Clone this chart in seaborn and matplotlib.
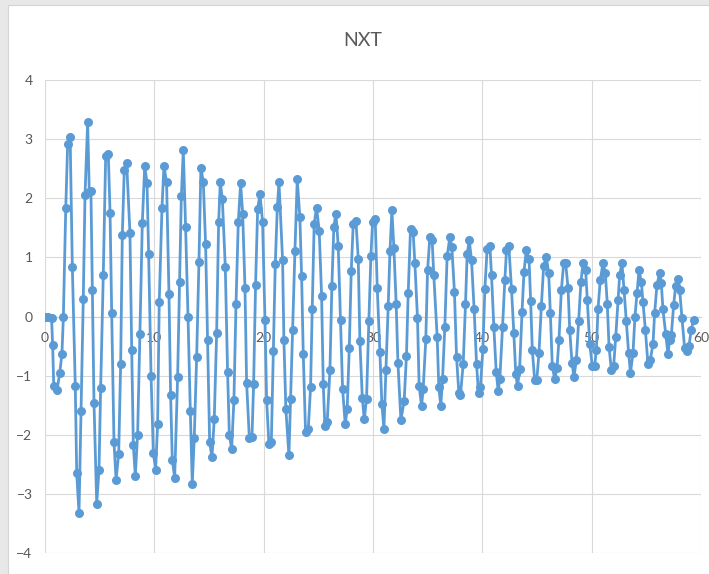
import matplotlib
matplotlib.use("Agg")
import matplotlib.pyplot as plt
from matplotlib.patches import Rectangle
import pandas as pd
import seaborn as sns

# NXT response, sampled values (time, amplitude) split into stretches of ~10 s
t_0_10 = [0.0, 0.3, 0.6, 0.7, 0.8, 1.1, 1.35, 1.55, 1.68, 1.9, 2.07, 2.3, 2.5, 2.77, 2.9,
          3.11, 3.3, 3.5, 3.66, 3.9, 4.05, 4.2, 4.33, 4.48, 4.73, 4.94, 5.09, 5.33, 5.55,
          5.79, 5.95, 6.1, 6.31, 6.5, 6.74, 6.92, 7.07, 7.25, 7.47, 7.77, 7.93, 8.08, 8.26,
          8.47, 8.68, 8.9, 9.12, 9.33, 9.48, 9.7, 9.91, 10.12]
v_0_10 = [0.00, 0.00, -0.03, -0.49, -1.17, -1.25, -0.95, -0.63, 0.00, 1.84, 2.91, 3.03,
          0.84, -1.18, -2.65, -3.32, -1.60, 0.29, 2.06, 3.29, 2.10, 2.13, 0.45, -1.46,
          -3.17, -2.59, -1.21, 0.70, 2.72, 2.75, 1.75, 0.06, -2.13, -2.76, -2.32, -0.80,
          1.37, 2.48, 2.59, 1.41, -0.56, -2.18, -2.69, -2.00, -0.30, 1.58, 2.55, 2.26,
          1.05, -1.00, -2.31, -2.59]

t_10_21 = [10.3, 10.45, 10.7, 10.88, 11.12, 11.34, 11.49, 11.64, 11.86, 12.13, 12.31,
           12.47, 12.65, 12.86, 13.08, 13.29, 13.47, 13.65, 13.87, 14.08, 14.26, 14.48,
           14.69, 14.87, 15.06, 15.27, 15.48, 15.7, 15.88, 16.03, 16.22, 16.49, 16.7,
           16.86, 17.07, 17.28, 17.47, 17.68, 17.89, 18.08, 18.29, 18.44, 18.69, 18.93,
           19.08, 19.26, 19.45, 19.66, 19.9, 20.12, 20.27, 20.48, 20.7, 20.88, 21.06,
           21.25, 21.4]
v_10_21 = [-1.82, 0.25, 1.84, 2.55, 2.27, 0.38, -1.33, -2.42, -2.73, -1.02, 0.59, 2.03,
           2.81, 1.51, 0.00, -1.59, -2.83, -2.06, -0.69, 0.92, 2.52, 2.27, 1.22, -0.39,
           -2.13, -2.38, -1.74, -0.28, 1.59, 2.27, 1.99, 0.84, -0.94, -2.00, -2.24, -1.41,
           0.21, 1.60, 2.25, 1.74, 0.49, -1.12, -2.06, -2.04, -1.15, 0.54, 1.82, 2.07,
           1.60, -0.06, -1.41, -2.16, -2.13, -0.59, 0.88, 1.85, 2.27]

t_21_33 = [21.73, 21.85, 22.03, 22.31, 22.46, 22.64, 22.86, 23.07, 23.31, 23.47, 23.62,
           23.83, 24.08, 24.29, 24.44, 24.62, 24.84, 25.08, 25.3, 25.45, 25.6, 25.81,
           26.06, 26.24, 26.42, 26.61, 26.82, 27.03, 27.22, 27.46, 27.64, 27.83, 28.01,
           28.19, 28.44, 28.65, 28.8, 29.02, 29.2, 29.41, 29.62, 29.81, 29.96, 30.2,
           30.39, 30.63, 30.81, 31.0, 31.18, 31.39, 31.55, 31.73, 31.91, 32.12, 32.28,
           32.55]
v_21_33 = [0.96, -0.39, -1.57, -2.35, -1.40, -0.22, 1.11, 2.32, 1.68, 0.69, -0.63, -1.95,
           -1.90, -1.20, 0.12, 1.57, 1.84, 1.45, 0.34, -1.14, -1.86, -1.79, -0.91, 0.52,
           1.52, 1.74, 1.19, -0.06, -1.23, -1.82, -1.56, -0.53, 0.77, 1.56, 1.61, 0.98,
           -0.41, -1.37, -1.74, -1.39, -0.08, 1.03, 1.59, 1.65, 0.48, -0.60, -1.48,
           -1.90, -0.91, 0.17, 1.10, 1.80, 1.16, 0.21, -0.78, -1.75]

t_33_43 = [32.85, 33.06, 33.22, 33.43, 33.67, 33.83, 34.07, 34.22, 34.44, 34.59, 34.83,
           34.99, 35.2, 35.41, 35.56, 35.87, 36.02, 36.2, 36.36, 36.57, 36.78, 37.03,
           37.21, 37.45, 37.64, 37.85, 38.0, 38.25, 38.46, 38.61, 38.8, 39.01, 39.25,
           39.47, 39.65, 39.83, 40.05, 40.23, 40.44, 40.69, 40.84, 41.05, 41.27, 41.45,
           41.6, 41.85, 42.06, 42.21, 42.42, 42.67, 42.88, 43.06, 43.22]
v_33_43 = [-1.43, -0.66, 0.40, 1.48, 1.43, 0.90, -0.03, -1.18, -1.51, -1.23, -0.38, 0.78,
           1.34, 1.29, 0.70, -0.35, -1.20, -1.51, -1.06, -0.17, 1.02, 1.34, 1.18, 0.41,
           -0.68, -1.29, -1.33, -0.80, 0.21, 1.05, 1.29, 0.96, 0.12, -0.80, -1.30, -1.19,
           -0.55, 0.46, 1.15, 1.20, 0.70, -0.17, -0.94, -1.26, -1.06, -0.17, 0.62, 1.12,
           1.20, 0.46, -0.28, -0.98, -1.18]

t_43_54 = [43.41, 43.63, 43.81, 44.02, 44.27, 44.42, 44.57, 44.79, 44.98, 45.18, 45.4,
           45.61, 45.85, 46.07, 46.22, 46.4, 46.62, 46.83, 47.01, 47.23, 47.44, 47.62,
           47.84, 47.99, 48.2, 48.38, 48.6, 48.81, 49.02, 49.21, 49.45, 49.6, 49.82,
           50.06, 50.27, 50.43, 50.58, 50.79, 51.04, 51.25, 51.43, 51.59, 51.8, 52.01,
           52.2, 52.41, 52.56, 52.77, 52.96, 53.17, 53.38, 53.55]
v_43_54 = [-0.89, 0.07, 0.76, 1.12, 0.98, 0.26, -0.57, -1.08, -1.08, -0.62, 0.18, 0.86,
           1.01, 0.73, 0.06, -0.84, -1.06, -0.87, -0.39, 0.45, 0.90, 0.90, 0.48, -0.22,
           -0.78, -1.03, -0.73, -0.08, 0.59, 0.90, 0.78, 0.28, -0.46, -0.84, -0.84,
           -0.56, 0.13, 0.62, 0.91, 0.73, 0.21, -0.52, -0.90, -0.84, -0.35, 0.28, 0.70,
           0.90, 0.45, -0.08, -0.62, -0.95]

t_54_60 = [53.78, 53.96, 54.15, 54.33, 54.54, 54.69, 54.91, 55.15, 55.36, 55.61, 55.76,
           55.97, 56.22, 56.37, 56.52, 56.77, 56.98, 57.13, 57.29, 57.5, 57.68, 57.9,
           58.05, 58.26, 58.5, 58.72, 58.9, 59.11, 59.33]
v_54_60 = [-0.62, 0.00, 0.40, 0.78, 0.59, 0.25, -0.22, -0.81, -0.74, -0.46, 0.06, 0.53,
           0.74, 0.56, 0.12, -0.29, -0.64, -0.39, -0.31, 0.20, 0.52, 0.64, 0.45, -0.03,
           -0.53, -0.59, -0.50, -0.22, -0.06]

x_ticks = [0, 10, 20, 30, 40, 50, 60]
y_ticks = [-4, -3, -2, -1, 0, 1, 2, 3, 4]
title = "NXT"

t_all = t_0_10 + t_10_21 + t_21_33 + t_33_43 + t_43_54 + t_54_60
v_all = v_0_10 + v_10_21 + v_21_33 + v_33_43 + v_43_54 + v_54_60
df = pd.DataFrame({"t": t_all, "v": v_all})

sns.set_theme(style="white")
plt.rcParams["font.family"] = ["Lato", "DejaVu Sans"]

W, H = 709, 574
fig = plt.figure(figsize=(W / 100, H / 100), dpi=100)
fig.patch.set_facecolor("#e8e8e8")
# white chart area, drawn beneath the axes
fig.patches.append(Rectangle((8 / W, 0), 1, 1 - 5 / H, transform=fig.transFigure,
                             facecolor="white", edgecolor="#d4d4d4", lw=0.8, zorder=-5))

ax = fig.add_axes([45 / W, 21 / H, 656 / W, 473 / H])
ax.set_zorder(2)
ax.set_facecolor("white")

blue = "#5B9BD5"
sns.lineplot(data=df, x="t", y="v", ax=ax, color=blue, linewidth=2.0,
             marker="o", markersize=6.5, markeredgewidth=0, markerfacecolor=blue,
             sort=False, estimator=None, zorder=3)

ax.set_xlim(0, 60)
ax.set_ylim(-4, 4)
ax.set_xticks(x_ticks)
ax.set_yticks(y_ticks)
ax.set_xlabel("")
ax.set_ylabel("")
ax.grid(True, color="#d9d9d9", linewidth=0.8)
ax.set_axisbelow(True)
for side in ["top", "right", "left"]:
    ax.spines[side].set_visible(False)
ax.spines["bottom"].set_position(("data", 0))
ax.spines["bottom"].set_color("#d0d0d0")
ax.spines["bottom"].set_linewidth(0.8)
ax.tick_params(axis="x", length=0, labelsize=10, labelcolor="#595959", pad=11)
ax.tick_params(axis="y", length=0, labelsize=10, labelcolor="#595959", pad=9)

fig.text(363 / W, 1 - 40 / H, title, ha="center", va="center",
         fontsize=14, color="#595959")

fig.savefig("out.png", dpi=100, facecolor=fig.get_facecolor())
